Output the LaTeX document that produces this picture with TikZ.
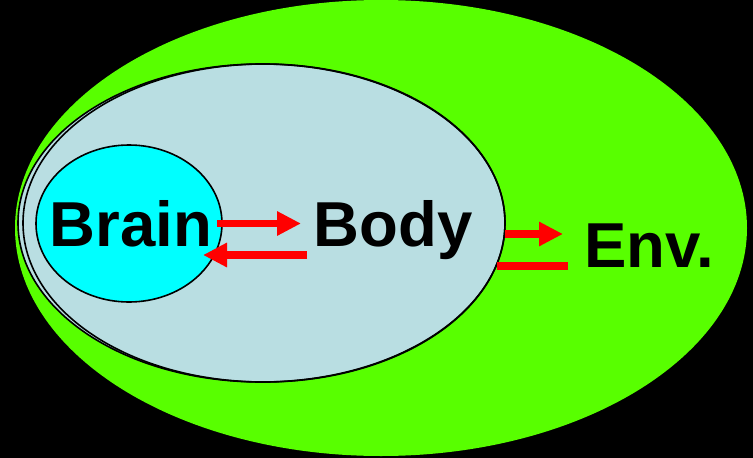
\documentclass[tikz,border=0pt]{standalone}
\usepackage{fontspec}
\setmainfont{Liberation Sans}
\usetikzlibrary{shapes.geometric,arrows.meta}
\definecolor{envgreen}{RGB}{88,255,0}
\definecolor{bodyblue}{RGB}{185,222,226}
\definecolor{braincyan}{RGB}{0,255,255}
\tikzset{
  blob/.style={ellipse,inner sep=0pt,outer sep=0pt},
  outl/.style={draw=black,line width=1.6pt},
  lbl/.style={font=\fontsize{63.5}{63.5}\selectfont\bfseries,anchor=base,inner sep=0pt},
  redarrow/.style={draw=red,line width=7.5pt,-{Triangle[length=24pt,width=23pt]}},
  redbar/.style={draw=red,line width=8pt}
}
\begin{document}
\begin{tikzpicture}[x=1pt,y=-1pt]
\useasboundingbox (0,0) rectangle (753,458);
\fill[black] (0,0) rectangle (753,458);
\node[blob,fill=envgreen,minimum width=732pt,minimum height=456pt] (env) at (381,228) {};
\node[blob,fill=bodyblue,outl,minimum width=487pt,minimum height=318pt] (body) at (261.5,223) {};
\node[blob,outl,minimum width=482pt,minimum height=318pt] (bodyb) at (264,223) {};
\node[blob,fill=braincyan,outl,minimum width=186pt,minimum height=157pt] (brain) at (129,223.5) {};
\node[lbl] (tbrain) at (131,246.5) {Brain};
\node[lbl] (tbody) at (393,246.5) {Body};
\node[lbl] (tenv) at (649,267.5) {Env.};
\coordinate (a1s) at (217,223.5);
\coordinate (a1e) at (301,223.5);
\coordinate (a2s) at (307,255);
\coordinate (a2e) at (203,255);
\coordinate (a3s) at (505,234);
\coordinate (a3e) at (563,234);
\coordinate (a4s) at (497,266);
\coordinate (a4e) at (568,266);
\draw[redarrow] (a1s) -- (a1e);
\draw[redarrow] (a2s) -- (a2e);
\draw[redarrow] (a3s) -- (a3e);
\draw[redbar] (a4s) -- (a4e);
\end{tikzpicture}
\end{document}
